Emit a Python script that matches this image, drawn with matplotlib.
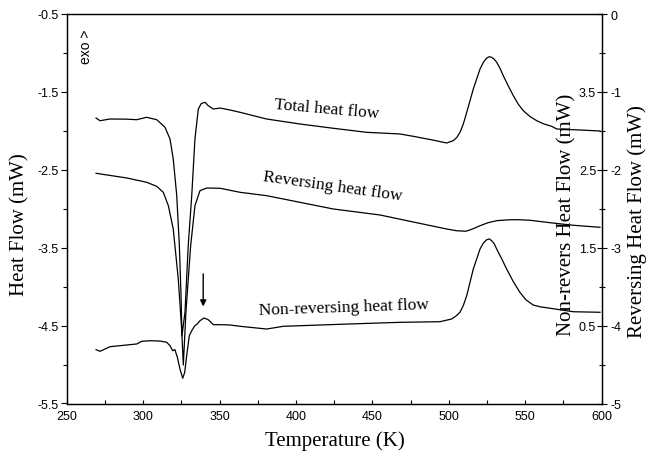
import matplotlib
matplotlib.use('Agg')
import matplotlib.pyplot as plt
from matplotlib.ticker import MultipleLocator

# values (temperature in K, heat flow in mW)
total_T = [269.2, 271.8, 278.3, 289.3, 295.8, 302.3, 308.9, 314.3, 317.6, 319.7,
           322.0, 323.7, 324.8, 325.4, 327.4, 329.5, 331.8, 333.9, 336.1, 338.0,
           340.5, 342.6, 345.9, 350.3, 356.8, 363.4, 380.8, 402.6, 424.4, 446.3,
           468.0, 476.7, 490.0, 498.6, 502.9, 505.2, 507.3, 509.5, 511.7, 516.0,
           520.4, 522.6, 524.8, 526.5, 528.0, 529.7, 531.3, 533.4, 535.6, 538.8,
           542.2, 545.5, 548.7, 553.0, 557.5, 562.0, 567.3, 570.6, 585.8, 598.9]
total_hf = [-1.835, -1.870, -1.848, -1.850, -1.857, -1.826, -1.857, -1.954, -2.105, -2.361,
            -2.832, -3.474, -4.116, -4.633, -4.325, -3.474, -2.832, -2.105, -1.720, -1.650,
            -1.633, -1.677, -1.720, -1.707, -1.732, -1.762, -1.848, -1.912, -1.967, -2.019,
            -2.040, -2.070, -2.120, -2.156, -2.126, -2.085, -2.019, -1.910, -1.762, -1.463,
            -1.206, -1.120, -1.065, -1.048, -1.056, -1.080, -1.120, -1.195, -1.292, -1.420,
            -1.549, -1.660, -1.741, -1.815, -1.870, -1.910, -1.942, -1.976, -1.989, -2.002]

rev_T = [269.2, 289.3, 302.3, 308.9, 313.2, 316.5, 319.7, 323.0, 325.2, 326.3,
         328.0, 331.1, 333.9, 337.2, 341.6, 350.3, 363.4, 380.8, 424.4, 455.0,
         476.7, 498.6, 505.0, 511.2, 515.5, 520.4, 525.5, 531.3, 540.0, 546.5,
         553.1, 566.2, 581.4, 598.9]
rev_hf = [-2.045, -2.105, -2.160, -2.212, -2.289, -2.461, -2.760, -3.402, -4.044, -4.506,
          -3.825, -2.974, -2.461, -2.268, -2.234, -2.237, -2.289, -2.332, -2.503, -2.580,
          -2.670, -2.760, -2.782, -2.789, -2.760, -2.718, -2.680, -2.653, -2.641, -2.641,
          -2.648, -2.679, -2.712, -2.738]

nrev_T = [269.2, 271.8, 278.3, 289.3, 295.8, 299.1, 304.5, 311.0, 315.4, 317.6,
          319.3, 320.8, 322.4, 324.1, 325.9, 327.2, 328.5, 330.2, 331.8, 333.9,
          335.4, 337.2, 339.8, 342.6, 345.9, 350.3, 356.8, 363.4, 369.9, 380.8,
          391.7, 435.3, 468.0, 494.2, 501.9, 504.8, 507.3, 509.5, 511.7, 516.0,
          520.4, 522.6, 524.8, 526.5, 528.0, 529.7, 531.3, 534.5, 537.8, 542.0,
          546.5, 550.5, 555.2, 560.0, 565.1, 581.4, 598.9]
nrev_hf = [0.191, 0.170, 0.229, 0.251, 0.264, 0.298, 0.306, 0.302, 0.286, 0.242,
           0.178, 0.191, 0.093, -0.057, -0.176, -0.100, 0.114, 0.370, 0.435, 0.499,
           0.521, 0.563, 0.598, 0.576, 0.512, 0.512, 0.508, 0.491, 0.478, 0.456,
           0.491, 0.521, 0.542, 0.550, 0.585, 0.625, 0.671, 0.760, 0.884, 1.227,
           1.483, 1.560, 1.603, 1.612, 1.590, 1.550, 1.483, 1.360, 1.227, 1.070,
           0.927, 0.830, 0.764, 0.740, 0.726, 0.678, 0.671]

left_ticks = [-5.5, -4.5, -3.5, -2.5, -1.5, -0.5]
left_labels = ['-5.5', '-4.5', '-3.5', '-2.5', '-1.5', '-0.5']
rev_ticks = [-5, -4, -3, -2, -1, 0]
rev_labels = ['-5', '-4', '-3', '-2', '-1', '0']
nrev_ticks = [0.5, 1.5, 2.5, 3.5]
nrev_labels = ['0.5', '1.5', '2.5', '3.5']
x_ticks = [250, 300, 350, 400, 450, 500, 550, 600]

serif = 'Liberation Serif'
sans = 'Liberation Sans'

fig = plt.figure(figsize=(6.47, 4.52), dpi=100)
ax = fig.add_axes([66.7 / 647, 1 - 404.5 / 452, 535 / 647, 389.5 / 452])
axr = ax.twinx()
axn = ax.twinx()

lw = 0.9
ax.plot(total_T, total_hf, color='k', lw=lw)
axr.plot(rev_T, rev_hf, color='k', lw=lw)
axn.plot(nrev_T, nrev_hf, color='k', lw=lw)

ax.set_xlim(250, 600)
ax.set_ylim(-5.5, -0.5)
axr.set_ylim(-5, 0)
axn.set_ylim(-0.5, 4.5)

# left axis
ax.set_yticks(left_ticks)
ax.set_yticklabels(left_labels, fontfamily=sans, fontsize=9)
ax.yaxis.set_minor_locator(MultipleLocator(0.5))
ax.tick_params(axis='y', which='major', direction='out', length=4.5, width=0.8, pad=1.5)
ax.tick_params(axis='y', which='minor', direction='out', length=3, width=0.8)
ax.tick_params(axis='y', right=False, which='both')

# bottom axis
ax.set_xticks(x_ticks)
ax.set_xticklabels([str(v) for v in x_ticks], fontfamily=sans, fontsize=9)
ax.xaxis.set_minor_locator(MultipleLocator(25))
ax.tick_params(axis='x', which='both', direction='in', length=3, width=0.8, pad=5, top=False)

# reversing axis (outer right)
axr.set_yticks(rev_ticks)
axr.set_yticklabels(rev_labels, fontfamily=sans, fontsize=9)
axr.yaxis.set_minor_locator(MultipleLocator(0.5))
axr.tick_params(axis='y', which='major', direction='inout', length=7, width=0.8, pad=3)
axr.tick_params(axis='y', which='minor', direction='inout', length=5, width=0.8)

# non-reversing axis, labels inside the right spine
axn.set_yticks(nrev_ticks)
axn.set_yticklabels(nrev_labels, fontfamily=sans, fontsize=9)
for lbl in axn.get_yticklabels():
    lbl.set_horizontalalignment('right')
axn.tick_params(axis='y', length=0, pad=-4)
for s in axn.spines.values():
    s.set_visible(False)

for a in (ax, axr):
    for s in a.spines.values():
        s.set_linewidth(0.9)

# axis titles
fig.text(20 / 647, 1 - 225 / 452, 'Heat Flow (mW)', rotation=90, ha='center', va='center',
         fontfamily=serif, fontsize=15)
fig.text(335 / 647, 1 - 441 / 452, 'Temperature (K)', ha='center', va='center',
         fontfamily=serif, fontsize=15)
fig.text(567 / 647, 1 - 215 / 452, 'Non-revers Heat Flow (mW)', rotation=90, ha='center',
         va='center', fontfamily=serif, fontsize=15)
fig.text(637 / 647, 1 - 222 / 452, 'Reversing Heat Flow (mW)', rotation=90, ha='center',
         va='center', fontfamily=serif, fontsize=15)

# curve labels
ax.text(420.3, -1.72, 'Total heat flow', rotation=-5, ha='center', va='center',
        fontfamily=serif, fontsize=12.5)
ax.text(424.2, -2.71, 'Reversing heat flow', rotation=-8, ha='center', va='center',
        fontfamily=serif, fontsize=12.5)
ax.text(431.4, -4.26, 'Non-reversing heat flow', rotation=2, ha='center', va='center',
        fontfamily=serif, fontsize=12.5)
ax.text(262.6, -0.91, 'exo >', rotation=90, ha='center', va='center',
        fontfamily=sans, fontsize=10)

# arrow at the small event after the melting dip
ax.annotate('', xy=(339.3, -4.29), xytext=(339.3, -3.80),
            arrowprops=dict(arrowstyle='-|>', color='k', lw=1, mutation_scale=9))

fig.savefig('out.png', dpi=100)
